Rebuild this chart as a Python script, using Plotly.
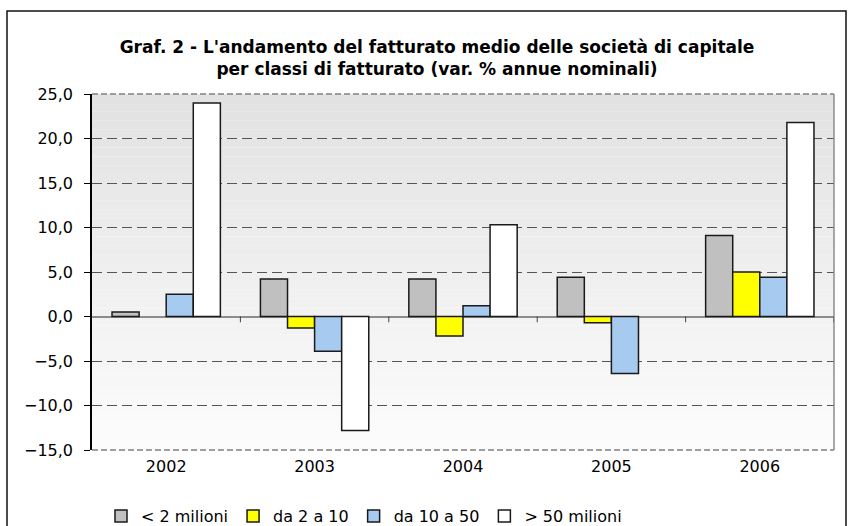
import plotly.graph_objects as go

# ---- data ----
years = ["2002", "2003", "2004", "2005", "2006"]
s_lt2 = [0.5, 4.2, 4.2, 4.4, 9.1]
s_2_10 = [None, -1.3, -2.2, -0.7, 5.0]
s_10_50 = [2.5, -3.9, 1.2, -6.4, 4.4]
s_gt50 = [24.0, -12.8, 10.3, None, 21.8]
series_names = ["< 2 milioni", "da 2 a 10", "da 10 a 50", "> 50 milioni"]
series_vals = [s_lt2, s_2_10, s_10_50, s_gt50]
series_colors = ["#c0c0c0", "#ffff00", "#a6caf0", "#ffffff"]
y_ticks = [-15, -10, -5, 0, 5, 10, 15, 20, 25]

# ---- layout geometry (pixels) ----
W, H = 851, 526
L, R, T, B = 92, 17, 94, 76
pw, ph = W - L - R, H - T - B


def px2x(px):
    return (px - L) / pw


def py2y(py):
    return (H - B - py) / ph


FONT = "DejaVu Sans"

fig = go.Figure()
for name, vals, col in zip(series_names, series_vals, series_colors):
    fig.add_trace(go.Bar(
        x=years, y=vals, name=name,
        marker=dict(color=col, line=dict(color="#1a1a1a", width=1.5)),
    ))

shapes = []
# gradient background of the plot area
N = 40
top_c, bot_c = 226, 252
for i in range(N):
    c = round(top_c + (bot_c - top_c) * i / (N - 1))
    shapes.append(dict(
        type="rect", xref="x domain", yref="y domain",
        x0=0, x1=1, y0=1 - (i + 1) / N, y1=1 - i / N,
        fillcolor=f"rgb({c},{c},{c})", line=dict(width=0), layer="below",
    ))
# dashed top / bottom border lines of plot area
for yd in (0, 1):
    shapes.append(dict(type="line", xref="x domain", yref="y domain",
                       x0=0, x1=1, y0=yd, y1=yd,
                       line=dict(color="#808080", width=1.5, dash="6px,3px"),
                       layer="below"))
# right border of plot area
shapes.append(dict(type="line", xref="x domain", yref="y domain",
                   x0=1, x1=1, y0=0, y1=1,
                   line=dict(color="#8c8c8c", width=1.5), layer="above"))
# category boundary ticks on the zero line
for i in range(1, len(years) + 1):
    shapes.append(dict(type="line", xref="x", yref="y",
                       x0=i - 0.5, x1=i - 0.5, y0=0, y1=-0.65,
                       line=dict(color="#444", width=1), layer="above"))
# outer chart frame
shapes.append(dict(type="rect", xref="paper", yref="paper",
                   x0=px2x(7), x1=px2x(846), y0=py2y(540), y1=py2y(11),
                   line=dict(color="#111", width=1.5), fillcolor="rgba(0,0,0,0)"))

fig.update_layout(
    width=W, height=H,
    margin=dict(l=L, r=R, t=T, b=B, pad=0, autoexpand=False),
    paper_bgcolor="white", plot_bgcolor="white",
    font=dict(family=FONT, size=16, color="#000"),
    separators=",.",
    barmode="group", bargap=0.27, bargroupgap=0,
    title=dict(
        text="Graf. 2 - L'andamento del fatturato medio delle società di capitale<br>"
             "per classi di fatturato (var. % annue nominali)",
        font=dict(family=FONT, size=17, weight="bold", color="#000"),
        x=px2x(437), xref="paper", xanchor="center",
        y=1 - 53 / H, yref="container", yanchor="middle",
    ),
    showlegend=True,
    legend=dict(
        orientation="h", x=px2x(101), xanchor="left",
        y=py2y(516), yanchor="middle",
        font=dict(family=FONT, size=16, color="#000"),
        bgcolor="rgba(0,0,0,0)", itemwidth=30, tracegroupgap=0,
        traceorder="normal",
    ),
    shapes=shapes,
)

fig.update_xaxes(
    type="category", range=[-0.5, len(years) - 0.5],
    showgrid=False, zeroline=False, showline=False, ticks="",
    tickfont=dict(family=FONT, size=16), ticklabelstandoff=5,
)
fig.update_yaxes(
    range=[-15, 25], tickvals=y_ticks, tickformat=".1f",
    showgrid=True, gridcolor="#555", griddash="10px,5px", gridwidth=1,
    zeroline=True, zerolinecolor="#8c8c8c", zerolinewidth=1.5,
    showline=True, linecolor="#000", linewidth=1.5,
    ticks="outside", ticklen=6, tickcolor="#000", tickwidth=1,
    tickfont=dict(family=FONT, size=16), ticklabelstandoff=8,
)

fig.write_html("out.html", config={"displayModeBar": False},
               post_script="document.body.style.margin='0';")
